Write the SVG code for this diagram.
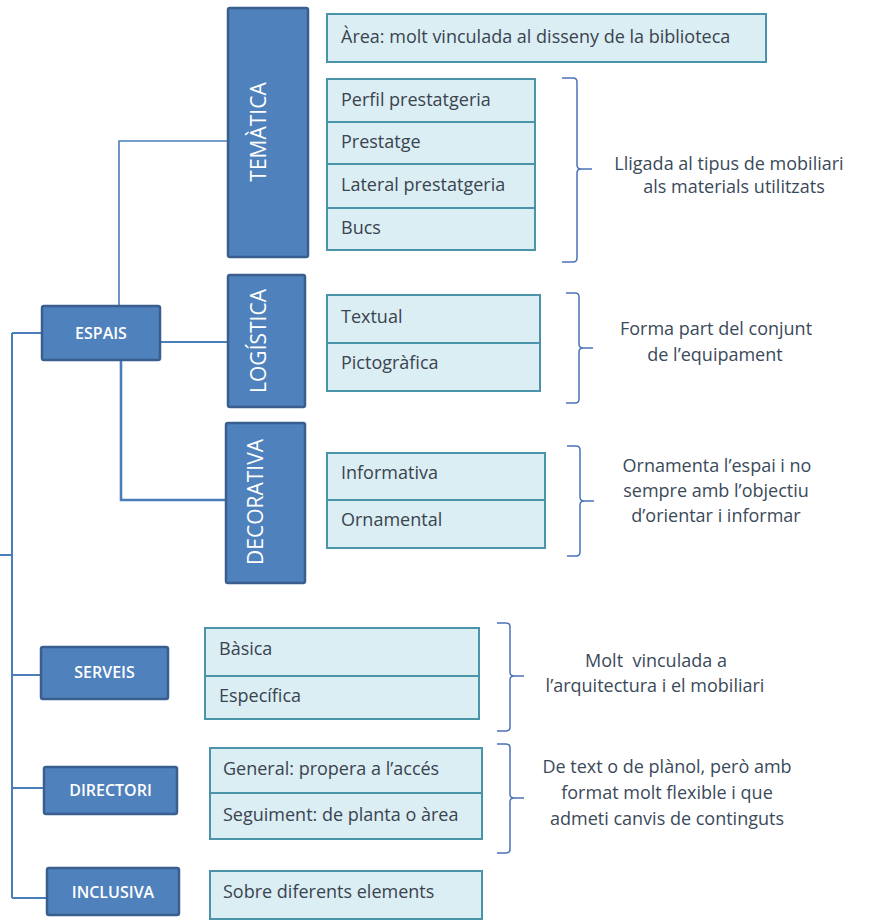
<svg xmlns="http://www.w3.org/2000/svg" width="869" height="920" viewBox="0 0 869 920">
<style>
.hb{fill:#4F81BD;stroke:#3A5F8F;stroke-width:2.5}
.ht{font-family:"Open Sans","Liberation Sans",sans-serif;font-weight:600;font-size:16px;fill:#FFFFFF;text-anchor:middle}
.vt{font-family:"Open Sans","Liberation Sans",sans-serif;font-size:21px;fill:#FFFFFF;text-anchor:middle}
.lb{fill:#DAEEF3;stroke:#4A93A8;stroke-width:2}
.dv{stroke:#4A93A8;stroke-width:2}
.lt{font-family:"Open Sans","Liberation Sans",sans-serif;font-size:18px;fill:#3A4350}
.dt{font-family:"Open Sans","Liberation Sans",sans-serif;font-size:18px;fill:#3A4A5A;text-anchor:middle}
.cn{fill:none;stroke:#4A7EBB;stroke-width:2}
.br{fill:none;stroke:#4A72B8;stroke-width:1.5}
</style>
<g id="connectors">
<path class="cn" d="M0,555 H12 M12,333 V898 M12,333 H42 M12,675 H41 M12,788 H44 M12,898 H47"/>
<path class="cn" style="stroke-width:1.6" d="M119,306 V141 H228"/>
<path class="cn" d="M160,342 H228"/>
<path class="cn" style="stroke-width:2.6" d="M121,360 V500 H226"/>
</g>
<g id="espais"><rect class="hb" x="42" y="306" width="118" height="54" rx="2"/><text class="ht" x="101" y="339">ESPAIS</text></g>
<g id="serveis"><rect class="hb" x="41" y="647" width="127" height="52" rx="2"/><text class="ht" x="104.5" y="678">SERVEIS</text></g>
<g id="directori"><rect class="hb" x="44" y="767" width="133" height="47" rx="2"/><text class="ht" x="110.5" y="796">DIRECTORI</text></g>
<g id="inclusiva"><rect class="hb" x="47" y="868" width="132" height="47" rx="2"/><text class="ht" x="113" y="898">INCLUSIVA</text></g>
<g id="tematica"><rect class="hb" x="228" y="8" width="80" height="249" rx="2"/><text class="vt" transform="translate(266,132) rotate(-90)">TEMÀTICA</text></g>
<g id="logistica"><rect class="hb" x="228" y="275" width="77" height="132" rx="2"/><text class="vt" transform="translate(266,341) rotate(-90)">LOGÍSTICA</text></g>
<g id="decorativa"><rect class="hb" x="226" y="423" width="79" height="160" rx="2"/><text class="vt" transform="translate(263,502) rotate(-90)">DECORATIVA</text></g>
<g id="area"><rect class="lb" x="327" y="14" width="439" height="48"/><text class="lt" x="341" y="43">Àrea: molt vinculada al disseny de la biblioteca</text></g>
<g id="tematica-list">
<rect class="lb" x="327" y="79" width="208" height="171"/>
<path class="dv" d="M327,122 H535 M327,164 H535 M327,208 H535"/>
<text class="lt" x="341" y="106">Perfil prestatgeria</text>
<text class="lt" x="341" y="148">Prestatge</text>
<text class="lt" x="341" y="191">Lateral prestatgeria</text>
<text class="lt" x="341" y="234">Bucs</text>
</g>
<g id="tematica-note">
<path class="br" d="M562,78 H573 Q577,78 577,82 V165 Q577,169 581,169 H592 M581,169 Q577,169 577,173 V258 Q577,262 573,262 H562"/>
<text class="dt" x="729" y="170">Lligada al tipus de mobiliari</text>
<text class="dt" x="734" y="193">als materials utilitzats</text>
</g>
<g id="logistica-list">
<rect class="lb" x="327" y="295" width="213" height="96"/>
<path class="dv" d="M327,343 H540"/>
<text class="lt" x="341" y="323">Textual</text>
<text class="lt" x="341" y="369">Pictogràfica</text>
</g>
<g id="logistica-note">
<path class="br" d="M566,293 H575 Q579,293 579,297 V344 Q579,348 583,348 H593 M583,348 Q579,348 579,352 V399 Q579,403 575,403 H566"/>
<text class="dt" x="716" y="335">Forma part del conjunt</text>
<text class="dt" x="715" y="361">de l’equipament</text>
</g>
<g id="decorativa-list">
<rect class="lb" x="327" y="453" width="218" height="95"/>
<path class="dv" d="M327,500 H545"/>
<text class="lt" x="341" y="479">Informativa</text>
<text class="lt" x="341" y="526">Ornamental</text>
</g>
<g id="decorativa-note">
<path class="br" d="M567,446 H576 Q580,446 580,450 V497 Q580,501 584,501 H594 M584,501 Q580,501 580,505 V552 Q580,556 576,556 H567"/>
<text class="dt" x="717" y="472">Ornamenta l’espai i no</text>
<text class="dt" x="716" y="497">sempre amb l’objectiu</text>
<text class="dt" x="716" y="522">d’orientar i informar</text>
</g>
<g id="serveis-list">
<rect class="lb" x="205" y="628" width="274" height="91"/>
<path class="dv" d="M205,676 H479"/>
<text class="lt" x="219" y="655">Bàsica</text>
<text class="lt" x="219" y="702">Específica</text>
</g>
<g id="serveis-note">
<path class="br" d="M497,623 H506 Q510,623 510,627 V672 Q510,676 514,676 H524 M514,676 Q510,676 510,680 V727 Q510,731 506,731 H497"/>
<text class="dt" x="656" y="667" xml:space="preserve">Molt  vinculada a</text>
<text class="dt" x="655" y="692">l’arquitectura i el mobiliari</text>
</g>
<g id="directori-list">
<rect class="lb" x="210" y="748" width="272" height="91"/>
<path class="dv" d="M210,793 H482"/>
<text class="lt" x="223" y="775">General: propera a l’accés</text>
<text class="lt" x="223" y="821">Seguiment: de planta o àrea</text>
</g>
<g id="directori-note">
<path class="br" d="M497,744 H506 Q510,744 510,748 V794 Q510,798 514,798 H524 M514,798 Q510,798 510,802 V849 Q510,853 506,853 H497"/>
<text class="dt" x="667" y="773">De text o de plànol, però amb</text>
<text class="dt" x="667" y="799">format molt flexible i que</text>
<text class="dt" x="667" y="825">admeti canvis de continguts</text>
</g>
<g id="inclusiva-list">
<rect class="lb" x="210" y="871" width="272" height="48"/>
<text class="lt" x="223" y="898">Sobre diferents elements</text>
</g>
</svg>
